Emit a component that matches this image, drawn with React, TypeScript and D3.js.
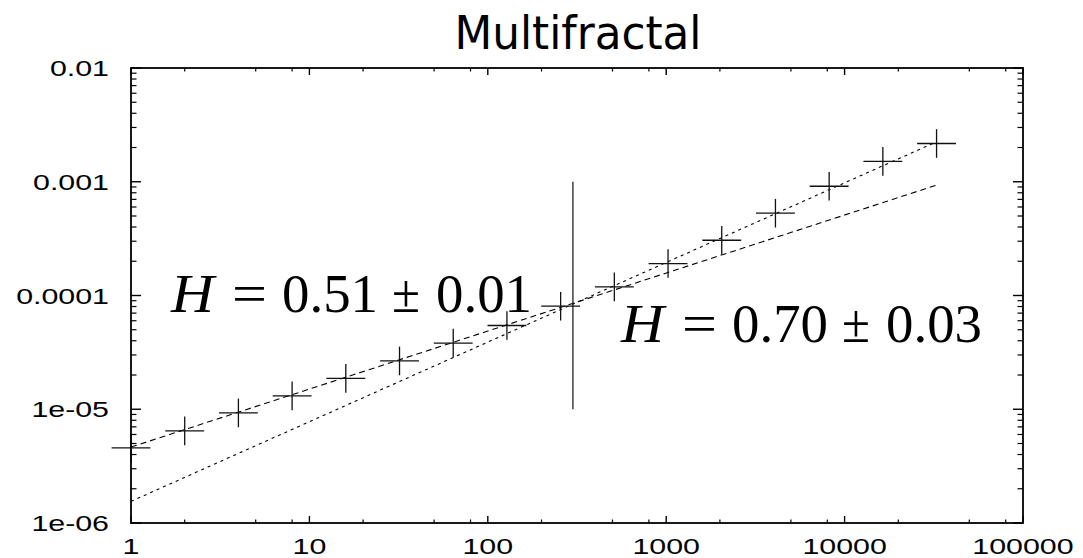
import * as d3 from 'd3'

const W = 1083
const H = 558
const PLOT = { left: 131, right: 1023, top: 68, bottom: 523 }

// box sizes n (powers of two) and the measured fluctuation F(n)
const boxSizes = [1, 2, 4, 8, 16, 32, 64, 128, 256, 512, 1024, 2048, 4096, 8192, 16384, 32768]
const fluctuation = [
  4.58e-6, 6.46e-6, 9.29e-6, 1.31e-5, 1.87e-5, 2.66e-5, 3.81e-5, 5.45e-5,
  8.05e-5, 1.19e-4, 1.91e-4, 3.06e-4, 5.29e-4, 9.13e-4, 1.51e-3, 2.17e-3,
]
// error bars as multiplicative factors (log axes)
const X_ERR = 1.285
const Y_ERR = 1.336

// power-law fits F = amp * n^H
const fitHurst = [0.51, 0.7]
const fitAmp = [4.65e-6, 1.55e-6]
const fitRange = [1, 32768]
const fitDash = ['6,4', '3,4']

// crossover marker
const crossX = 300
const crossY = [1e-5, 1e-3]

const xTicks = [1, 10, 100, 1000, 10000, 100000]
const xTickLabels = ['1', '10', '100', '1000', '10000', '100000']
const yTicks = [1e-6, 1e-5, 1e-4, 1e-3, 1e-2]
const yTickLabels = ['1e-06', '1e-05', '0.0001', '0.001', '0.01']
const xMinorMult = [2, 5, 8]
const yMinorMult = [2, 3, 4, 5, 6, 7, 8, 9]

const title = 'Multifractal'
const hurstValue = ['0.51', '0.70']
const hurstError = ['0.01', '0.03']
const labelAnchor = [[171, 312], [621, 342]]
// piece offsets within a label: H, =, value, ±, error
const PIECE_DX = [0, 61, 111, 221, 265]

const SANS = 'Liberation Sans, Arial, sans-serif'
const SERIF = 'Liberation Serif, Times New Roman, serif'
const TICK_STRETCH = 1.38

export default function App() {
  const x = d3.scaleLog().domain([1, 100000]).range([PLOT.left, PLOT.right])
  const y = d3.scaleLog().domain([1e-6, 1e-2]).range([PLOT.bottom, PLOT.top])

  const xMinor = xTicks.slice(0, -1).flatMap(d => xMinorMult.map(k => d * k))
  const yMinor = yTicks.slice(0, -1).flatMap(d => yMinorMult.map(k => d * k))

  const fitLine = d3.line<number>().x(d => x(d))
  const points = boxSizes.map((n, i) => ({ n, f: fluctuation[i] }))

  return (
    <svg width={W} height={H} style={{ position: 'absolute', left: 0, top: 0, background: '#fff' }}>
      {/* title */}
      <text x={578} y={49} textAnchor="middle" fontFamily="DejaVu Sans, sans-serif"
        fontSize={46} textLength={247} lengthAdjust="spacingAndGlyphs" fill="#000">{title}</text>

      {/* minor ticks */}
      {xMinor.map((d, i) => (
        <g key={'xm' + i} stroke="#000" strokeWidth={1.2}>
          <line x1={x(d)} x2={x(d)} y1={PLOT.bottom} y2={PLOT.bottom - 3.5} />
          <line x1={x(d)} x2={x(d)} y1={PLOT.top} y2={PLOT.top + 3.5} />
        </g>
      ))}
      {yMinor.map((d, i) => (
        <g key={'ym' + i} stroke="#000" strokeWidth={1.2}>
          <line x1={PLOT.left} x2={PLOT.left + 5.5} y1={y(d)} y2={y(d)} />
          <line x1={PLOT.right} x2={PLOT.right - 5.5} y1={y(d)} y2={y(d)} />
        </g>
      ))}

      {/* major ticks + labels */}
      {xTicks.map((d, i) => (
        <g key={'x' + i}>
          <line x1={x(d)} x2={x(d)} y1={PLOT.bottom} y2={PLOT.bottom - 7} stroke="#000" strokeWidth={1.4} />
          <line x1={x(d)} x2={x(d)} y1={PLOT.top} y2={PLOT.top + 7} stroke="#000" strokeWidth={1.4} />
          <text transform={`translate(${x(d)},554) scale(${TICK_STRETCH},1)`} textAnchor="middle"
            fontFamily={SANS} fontSize={22} fill="#000">{xTickLabels[i]}</text>
        </g>
      ))}
      {yTicks.map((d, i) => (
        <g key={'y' + i}>
          <line x1={PLOT.left} x2={PLOT.left + 10} y1={y(d)} y2={y(d)} stroke="#000" strokeWidth={1.4} />
          <line x1={PLOT.right} x2={PLOT.right - 10} y1={y(d)} y2={y(d)} stroke="#000" strokeWidth={1.4} />
          <text transform={`translate(109,${y(d) + 8}) scale(${TICK_STRETCH},1)`} textAnchor="end"
            fontFamily={SANS} fontSize={22} fill="#000">{yTickLabels[i]}</text>
        </g>
      ))}

      {/* fit lines */}
      {fitHurst.map((h, i) => (
        <path key={'fit' + i}
          d={fitLine.y(n => y(fitAmp[i] * Math.pow(n, h)))(fitRange) || ''}
          fill="none" stroke="#000" strokeWidth={1.1} strokeDasharray={fitDash[i]} />
      ))}

      {/* crossover line */}
      <line x1={x(crossX)} x2={x(crossX)} y1={y(crossY[0])} y2={y(crossY[1])} stroke="#222" strokeWidth={1.3} />

      {/* data with error bars */}
      {points.map((p, i) => (
        <g key={'p' + i} stroke="#111" strokeWidth={1.3}>
          <line x1={x(p.n / X_ERR)} x2={x(p.n * X_ERR)} y1={y(p.f)} y2={y(p.f)} />
          <line x1={x(p.n)} x2={x(p.n)} y1={y(p.f / Y_ERR)} y2={y(p.f * Y_ERR)} />
        </g>
      ))}

      {/* Hurst exponent labels */}
      {hurstValue.map((v, i) => {
        const [lx, ly] = labelAnchor[i]
        const pieces = ['H', '=', v, '\u00b1', hurstError[i]]
        return (
          <text key={'lab' + i} y={ly} fontFamily={SERIF} fontSize={54} fill="#000">
            {pieces.map((s, j) => (
              <tspan key={j} x={lx + PIECE_DX[j]} fontStyle={j === 0 ? 'italic' : 'normal'}
                textLength={j === 0 ? 43 : j === 1 ? 35 : j === 3 ? 28 : 96}
                lengthAdjust="spacingAndGlyphs">{s}</tspan>
            ))}
          </text>
        )
      })}

      {/* frame */}
      <rect x={PLOT.left} y={PLOT.top} width={PLOT.right - PLOT.left} height={PLOT.bottom - PLOT.top}
        fill="none" stroke="#000" strokeWidth={1.8} />
    </svg>
  )
}
